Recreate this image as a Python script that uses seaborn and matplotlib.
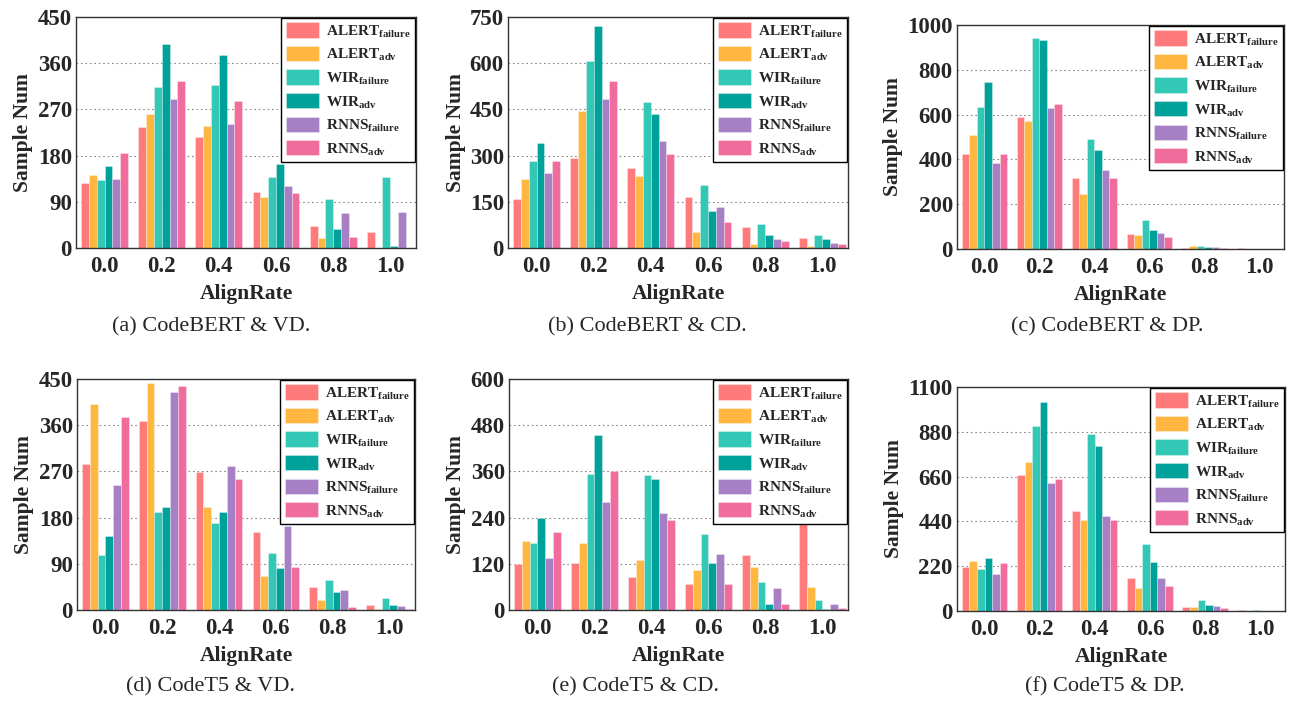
import pandas as pd
import matplotlib
matplotlib.use("Agg")
import matplotlib.pyplot as plt
import seaborn as sns

# AlignRate bins
rates = ["0.0", "0.2", "0.4", "0.6", "0.8", "1.0"]
methods = ["ALERT_failure", "ALERT_adv", "WIR_failure", "WIR_adv", "RNNS_failure", "RNNS_adv"]
labels = [r"ALERT$_{\mathrm{failure}}$", r"ALERT$_{\mathrm{adv}}$",
          r"WIR$_{\mathrm{failure}}$", r"WIR$_{\mathrm{adv}}$",
          r"RNNS$_{\mathrm{failure}}$", r"RNNS$_{\mathrm{adv}}$"]
colors = ["#FF7B7B", "#FFB742", "#33C7B5", "#00A19B", "#A77FC5", "#F06C9D"]

# values per panel, one row per method, one column per rate bin
codebert_vd = [
    [126, 235, 217, 109, 43, 32],
    [142, 262, 238, 99, 19, 0],
    [132, 313, 317, 139, 96, 138],
    [159, 398, 376, 163, 37, 3],
    [135, 291, 242, 120, 68, 71],
    [185, 326, 287, 108, 21, 0],
]
codebert_cd = [
    [159, 291, 259, 166, 69, 31],
    [223, 446, 233, 53, 14, 6],
    [284, 606, 474, 205, 79, 42],
    [340, 720, 434, 121, 43, 30],
    [243, 483, 346, 132, 30, 17],
    [283, 542, 304, 86, 22, 14],
]
codebert_dp = [
    [426, 588, 316, 68, 4, 3],
    [510, 572, 245, 62, 15, 0],
    [634, 943, 490, 129, 12, 0],
    [746, 933, 440, 83, 7, 0],
    [382, 630, 354, 71, 7, 0],
    [422, 646, 319, 53, 6, 0],
]
codet5_vd = [
    [285, 368, 268, 152, 45, 9],
    [401, 443, 200, 67, 19, 1],
    [108, 191, 169, 112, 59, 23],
    [145, 200, 191, 81, 36, 9],
    [243, 425, 281, 163, 39, 7],
    [376, 436, 256, 83, 5, 1],
]
codet5_cd = [
    [119, 123, 85, 67, 143, 250],
    [179, 175, 131, 103, 111, 59],
    [173, 353, 350, 197, 73, 26],
    [238, 454, 339, 122, 16, 3],
    [136, 280, 253, 145, 58, 15],
    [203, 362, 233, 67, 16, 4],
]
codet5_dp = [
    [214, 667, 490, 162, 21, 3],
    [246, 734, 446, 113, 18, 1],
    [204, 909, 870, 330, 55, 3],
    [261, 1028, 810, 242, 29, 2],
    [184, 628, 468, 162, 23, 2],
    [237, 650, 446, 122, 13, 1],
]

panels = [
    (codebert_vd, 450, 90, "(a) CodeBERT & VD."),
    (codebert_cd, 750, 150, "(b) CodeBERT & CD."),
    (codebert_dp, 1000, 200, "(c) CodeBERT & DP."),
    (codet5_vd, 450, 90, "(d) CodeT5 & VD."),
    (codet5_cd, 600, 120, "(e) CodeT5 & CD."),
    (codet5_dp, 1100, 220, "(f) CodeT5 & DP."),
]

# axes boxes in pixels: left, top, right, bottom
boxes = [
    (76, 17, 416, 248), (508, 17, 848, 248), (957, 25, 1284, 249),
    (77, 379, 415, 610), (509, 379, 848, 610), (957, 387, 1285, 611),
]
# caption centres in pixels (x, y)
caption_pos = [(211, 327), (647, 327), (1107, 327), (210, 687), (636, 687), (1105, 687)]

sns.set_theme(style="white")
plt.rcParams["font.family"] = ["Liberation Serif", "DejaVu Serif"]
plt.rcParams["font.weight"] = "bold"
plt.rcParams["mathtext.fontset"] = "custom"
plt.rcParams["mathtext.rm"] = "Liberation Serif:bold"
plt.rcParams["mathtext.bf"] = "Liberation Serif:bold"

W, H = 1290, 701
fig = plt.figure(figsize=(W / 100, H / 100), dpi=100)
palette = dict(zip(methods, colors))

for (vals, ymax, step, caption), (l, t, r, b), (cx, cy) in zip(panels, boxes, caption_pos):
    ax = fig.add_axes([l / W, 1 - b / H, (r - l) / W, (b - t) / H])
    rows = []
    for m, series in zip(methods, vals):
        for rate, v in zip(rates, series):
            rows.append({"AlignRate": rate, "num": v, "method": m})
    df = pd.DataFrame(rows)
    sns.barplot(data=df, x="AlignRate", y="num", hue="method", hue_order=methods,
                order=rates, palette=palette, width=0.82, saturation=1,
                edgecolor=(1, 1, 1, 0.45), linewidth=0.5, ax=ax, zorder=2)
    ax.set_ylim(0, ymax)
    ax.set_yticks(range(0, ymax + 1, step))
    ax.set_xlim(-0.5, 5.45)
    ax.yaxis.grid(True, linestyle=(0, (1.5, 2.5)), color="#888888", linewidth=0.8, zorder=0)
    ax.set_axisbelow(True)
    ax.tick_params(axis="y", length=0, pad=3, labelsize=16.5)
    ax.tick_params(axis="x", length=0, pad=6, labelsize=16.5)
    for lab in ax.get_xticklabels() + ax.get_yticklabels():
        lab.set_fontweight("bold")
    ax.set_ylabel("Sample Num", fontsize=15.5, fontweight="bold", labelpad=3)
    ax.set_xlabel("AlignRate", fontsize=15.5, fontweight="bold", labelpad=4.5)
    for sp in ax.spines.values():
        sp.set_color("#333333")
        sp.set_linewidth(1.0)
    handles, _ = ax.get_legend_handles_labels()
    leg = ax.legend(handles, labels, loc="upper right", borderaxespad=0.05,
                    fontsize=11, frameon=True, fancybox=False, framealpha=1,
                    edgecolor="black", handlelength=2.2, handleheight=1.15,
                    handletextpad=0.45, labelspacing=0.4, borderpad=0.3)
    leg.get_frame().set_linewidth(1.0)
    leg.set_zorder(5)
    fig.text(cx / W, 1 - cy / H, caption, ha="center", va="center",
             fontsize=16, fontweight="normal")

fig.savefig("out.png", dpi=100)
